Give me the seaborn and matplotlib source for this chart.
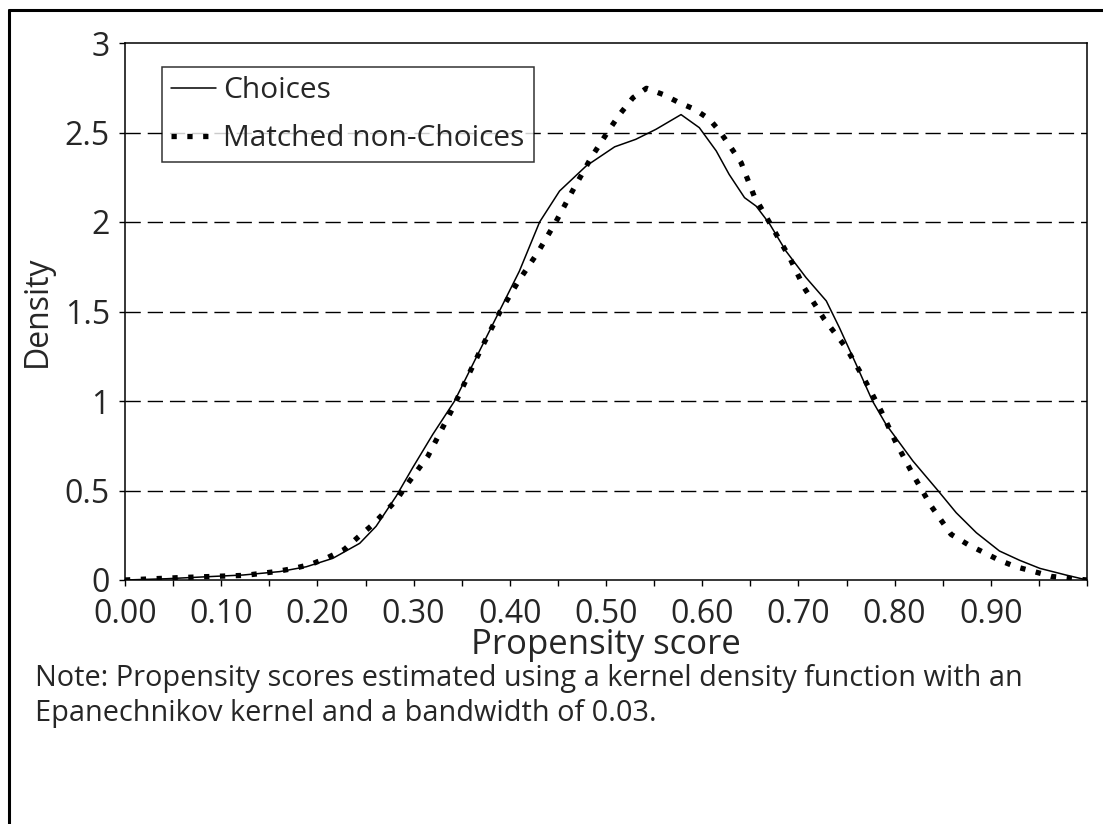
import matplotlib
matplotlib.use('Agg')
import matplotlib.pyplot as plt
from matplotlib.lines import Line2D
import seaborn as sns
import numpy as np

# Choices (solid line)
choices_x = [0.0, 0.043, 0.088, 0.123, 0.161, 0.1885, 0.216, 0.244, 0.261, 0.282, 0.299, 0.320,
             0.3426, 0.365, 0.389, 0.410, 0.431, 0.4517, 0.4794, 0.509, 0.531, 0.552, 0.578,
             0.597, 0.6146, 0.628, 0.644, 0.656, 0.670, 0.687, 0.708, 0.729, 0.7426, 0.760,
             0.777, 0.791, 0.819, 0.845, 0.864, 0.885, 0.909, 0.930, 0.951, 0.978, 1.0]
choices_y = [0.0, 0.007, 0.019, 0.028, 0.047, 0.074, 0.121, 0.205, 0.30, 0.469, 0.627, 0.814,
             1.0, 1.242, 1.5, 1.726, 2.0, 2.173, 2.313, 2.42, 2.462, 2.518, 2.60,
             2.527, 2.397, 2.266, 2.136, 2.089, 1.99, 1.838, 1.689, 1.559, 1.41, 1.205,
             1.0, 0.87, 0.665, 0.5, 0.376, 0.264, 0.162, 0.11, 0.065, 0.028, 0.0]

# Matched non-Choices (dotted line)
matched_x = [0.0, 0.055, 0.0915, 0.125, 0.1417, 0.157, 0.176, 0.194, 0.211, 0.228, 0.242, 0.257,
             0.282, 0.292, 0.315, 0.332, 0.341, 0.356, 0.372, 0.389, 0.408, 0.429, 0.448,
             0.4655, 0.4846, 0.5036, 0.514, 0.528, 0.542, 0.559, 0.576, 0.592, 0.6076, 0.618,
             0.630, 0.6405, 0.654, 0.672, 0.691, 0.706, 0.727, 0.7496, 0.7686, 0.786, 0.8015,
             0.819, 0.838, 0.8587, 0.876, 0.893, 0.909, 0.926, 0.943, 0.963, 0.98, 1.0]
matched_y = [0.0, 0.013, 0.02, 0.026, 0.037, 0.047, 0.065, 0.089, 0.126, 0.171, 0.238, 0.307,
             0.445, 0.525, 0.693, 0.87, 0.963, 1.134, 1.311, 1.49, 1.661, 1.829, 2.002,
             2.177, 2.36, 2.518, 2.60, 2.694, 2.747, 2.713, 2.667, 2.63, 2.574, 2.508,
             2.415, 2.331, 2.145, 1.978, 1.80, 1.633, 1.456, 1.298, 1.121, 0.944, 0.767,
             0.59, 0.413, 0.255, 0.199, 0.153, 0.11, 0.074, 0.05, 0.02, 0.01, 0.0]

x_ticks = [round(0.05 * i, 2) for i in range(21)]
x_ticklabels = ['%.2f' % t if (i % 2 == 0 and t < 0.95) else '' for i, t in enumerate(x_ticks)]
y_ticks = [0, 0.5, 1, 1.5, 2, 2.5, 3]
y_ticklabels = ['0', '0.5', '1', '1.5', '2', '2.5', '3']

note = ('Note: Propensity scores estimated using a kernel density function with an\n'
        'Epanechnikov kernel and a bandwidth of 0.03.')

sns.set_style('ticks')
plt.rcParams['font.family'] = ['Open Sans', 'DejaVu Sans']
plt.rcParams['font.size'] = 21

fig = plt.figure(figsize=(11.03, 8.24), dpi=100)
ax = fig.add_axes([125 / 1103, 1 - 580 / 824, (1087 - 125) / 1103, (580 - 43) / 824])

for g in [0.5, 1, 1.5, 2, 2.5]:
    ax.axhline(g, color='black', lw=1, linestyle=(0, (11, 5)), zorder=1)

sns.lineplot(x=choices_x, y=choices_y, ax=ax, color='black', lw=1.1, label='Choices', zorder=3)
sns.lineplot(x=matched_x, y=matched_y, ax=ax, color='black', lw=3.8,
             linestyle=(0, (1.0, 2.0)), label='Matched non-Choices', zorder=2)

ax.set_xlim(0, 1.0)
ax.set_ylim(0, 3)
ax.set_xticks(x_ticks)
ax.set_xticklabels(x_ticklabels)
ax.set_yticks(y_ticks)
ax.set_yticklabels(y_ticklabels)
ax.tick_params(axis='both', direction='out', length=4, width=1, color='black', labelsize=23)
ax.tick_params(axis='x', pad=9)
ax.tick_params(axis='y', pad=7)
for s in ax.spines.values():
    s.set_color('black')
    s.set_linewidth(1.1)

ax.set_xlabel('Propensity score', fontsize=25, labelpad=-2)
ax.set_ylabel('Density', fontsize=23, labelpad=8)

leg = ax.legend(loc='upper left', bbox_to_anchor=(162 / 1103, 1 - 67 / 824),
                bbox_transform=fig.transFigure, frameon=True, fancybox=False,
                fontsize=21.5, handlelength=1.5, handletextpad=0.25, borderpad=0.3,
                labelspacing=0.65, borderaxespad=0)
leg.get_frame().set_edgecolor('black')
leg.get_frame().set_linewidth(1.1)

fig.text(35 / 1103, 1 - 664 / 824, note, fontsize=20.8, va='top', ha='left', linespacing=1.25)

# outer frame (only left and top edges are visible in the original)
fig.add_artist(Line2D([9 / 1103, 9 / 1103], [0, 1 - 10 / 824], color='black', lw=2.2,
                      transform=fig.transFigure))
fig.add_artist(Line2D([9 / 1103, 1], [1 - 10 / 824, 1 - 10 / 824], color='black', lw=2.2,
                      transform=fig.transFigure))

fig.savefig('out.png', dpi=100)
